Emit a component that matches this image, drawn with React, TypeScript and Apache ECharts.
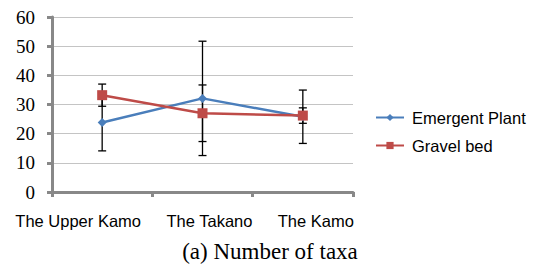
import React, { useEffect, useRef } from "react";
import * as echarts from "echarts";

const categories = ["The Upper Kamo", "The Takano", "The Kamo"];
const emergentValues = [23.8, 32.1, 25.8];
const emergentErrors = [9.7, 19.6, 9.15];
const gravelValues = [33.2, 27.0, 26.2];
const gravelErrors = [3.8, 9.7, 2.65];
const yTicks = { min: 0, max: 60, interval: 10 };
const titleText = "(a) Number of taxa";
const seriesNames = ["Emergent Plant", "Gravel bed"];

const labelPads: number[][] = [
  [0, 48, 0, 0],
  [0, 0, 0, 14],
  [0, 0, 0, 26],
];

export default function App() {
  const ref = useRef<HTMLDivElement>(null);
  useEffect(() => {
    if (!ref.current) return;
    const chart = echarts.init(ref.current, undefined, { renderer: "svg" });
    const errData = (vals: number[], errs: number[]) =>
      vals.map((v, i) => [i, v - errs[i], v + errs[i]]);
    const renderErr = (params: any, api: any) => {
      const x = api.value(0);
      const lo = api.coord([x, api.value(1)]);
      const hi = api.coord([x, api.value(2)]);
      const cw = 4;
      const style = { stroke: "#000", lineWidth: 1.3 };
      return {
        type: "group",
        children: [
          { type: "line", shape: { x1: lo[0], y1: lo[1], x2: hi[0], y2: hi[1] }, style },
          { type: "line", shape: { x1: lo[0] - cw, y1: lo[1], x2: lo[0] + cw, y2: lo[1] }, style },
          { type: "line", shape: { x1: hi[0] - cw, y1: hi[1], x2: hi[0] + cw, y2: hi[1] }, style },
        ],
      };
    };
    const rich: any = {};
    labelPads.forEach((p, i) => {
      rich["l" + i] = {
        fontFamily: "Liberation Sans",
        fontSize: 16.5,
        color: "#000",
        padding: p,
      };
    });
    chart.setOption({
      animation: false,
      grid: { left: 52, right: 184, top: 17, bottom: 72 },
      legend: {
        orient: "vertical",
        left: 370,
        top: 104,
        itemWidth: 28,
        itemHeight: 9,
        itemGap: 11,
        data: seriesNames,
        textStyle: {
          fontFamily: "Liberation Sans",
          fontSize: 16.5,
          lineHeight: 16,
          color: "#000",
          padding: [0, 0, 0, 3],
        },
      },
      xAxis: {
        type: "category",
        data: categories,
        boundaryGap: true,
        axisLine: { lineStyle: { color: "#888", width: 3 } },
        axisTick: { show: true, length: 5, alignWithLabel: false, lineStyle: { color: "#888", width: 3 } },
        axisLabel: {
          margin: 20,
          interval: 0,
          formatter: (v: string, i: number) => `{l${i}|${v}}`,
          rich,
        },
        splitLine: { show: false },
      },
      yAxis: {
        type: "value",
        min: yTicks.min,
        max: yTicks.max,
        interval: yTicks.interval,
        axisLine: { show: true, lineStyle: { color: "#888", width: 3 } },
        axisTick: { show: true, length: 5, lineStyle: { color: "#888", width: 3 } },
        axisLabel: {
          margin: 17,
          fontFamily: "Liberation Serif",
          fontSize: 19,
          color: "#000",
        },
        splitLine: { show: true, lineStyle: { color: "#c4c4c4", width: 1 } },
      },
      series: [
        {
          type: "custom",
          name: "errE",
          data: errData(emergentValues, emergentErrors),
          renderItem: renderErr,
          z: 1,
          silent: true,
        },
        {
          type: "custom",
          name: "errG",
          data: errData(gravelValues, gravelErrors),
          renderItem: renderErr,
          z: 1,
          silent: true,
        },
        {
          type: "line",
          name: seriesNames[0],
          data: emergentValues,
          symbol: "diamond",
          symbolSize: 9,
          itemStyle: { color: "#4a7ebb" },
          lineStyle: { color: "#4a7ebb", width: 2.5 },
          z: 3,
        },
        {
          type: "line",
          name: seriesNames[1],
          data: gravelValues,
          symbol: "rect",
          symbolSize: 10,
          itemStyle: { color: "#be4b48" },
          lineStyle: { color: "#be4b48", width: 2.5 },
          z: 4,
        },
      ],
      graphic: [
        {
          type: "text",
          x: 270,
          y: 251,
          style: {
            text: titleText,
            fontFamily: "Liberation Serif",
            fontSize: 23,
            fill: "#000",
            textAlign: "center",
            textVerticalAlign: "middle",
          },
        },
      ],
    });
    return () => chart.dispose();
  }, []);
  return (
    <div
      ref={ref}
      style={{ position: "absolute", left: 0, top: 0, width: 537, height: 264, background: "#fff" }}
    />
  );
}
